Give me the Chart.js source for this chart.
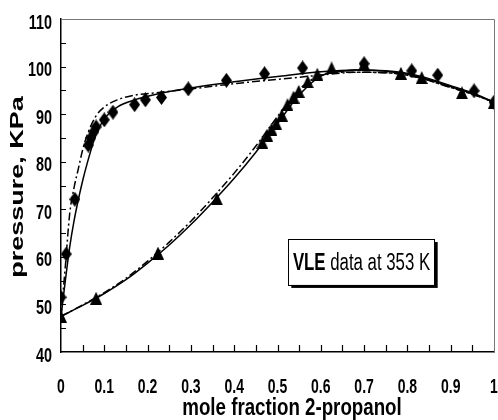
<!DOCTYPE html>
<html>
<head>
<meta charset="utf-8">
<script src="https://cdn.jsdelivr.net/npm/chart.js@4.4.1/dist/chart.umd.min.js"></script>
<style>
html, body { margin: 0; padding: 0; background: #fff; }
</style>
</head>
<body>
<canvas id="vleChart" width="498" height="420"></canvas>
<script>
// measured VLE points (diamonds = vapour / dew, triangles = liquid / bubble)
var dewX = [0, 0.012, 0.032, 0.063, 0.069, 0.076, 0.081, 0.1, 0.12, 0.17, 0.195, 0.232, 0.294, 0.382, 0.47, 0.558, 0.70, 0.81, 0.87, 0.954, 1.0];
var dewP = [51.5, 60.6, 72.1, 83.5, 85, 86.3, 87.3, 88.8, 90.4, 92, 93, 93.5, 95.3, 97.1, 98.5, 99.7, 100.6, 99.1, 98.2, 94.9, 92.5];
var bubX = [0, 0.081, 0.224, 0.36, 0.465, 0.476, 0.486, 0.497, 0.51, 0.523, 0.537, 0.549, 0.57, 0.592, 0.625, 0.70, 0.785, 0.833, 0.926, 1.0];
var bubP = [47.5, 51.3, 60.8, 72.2, 84, 85.6, 86.8, 88, 89.8, 92, 93.6, 94.8, 96.8, 98.4, 99.7, 100.5, 98.6, 97.7, 94.5, 92.5];

// model curves (solid = model 1, dash-dot = model 2)
var dewCurveX = [0, 0.01, 0.02, 0.03, 0.04, 0.05, 0.06, 0.08, 0.1, 0.13, 0.17, 0.22, 0.3, 0.4, 0.5, 0.6, 0.68, 0.75, 0.82, 0.9, 0.95, 1.0];
var dewModel1 = [47.5, 55, 62, 67.5, 72, 76, 79.5, 85.5, 89, 91.5, 93, 94.2, 95.5, 96.8, 97.9, 98.9, 99.3, 99.1, 98.2, 96, 94.5, 92.5];
var dewModel2 = [47.5, 58, 69, 74.5, 78.5, 82.5, 85.5, 89.5, 91.5, 93, 94, 94.5, 95.3, 96.4, 97.3, 98.2, 98.8, 98.7, 97.8, 95.6, 94.2, 92.5];
var bubCurveX = [0, 0.05, 0.1, 0.15, 0.2, 0.25, 0.3, 0.35, 0.4, 0.45, 0.5, 0.55, 0.6, 0.65, 0.68, 0.75, 0.82, 0.9, 0.95, 1.0];
var bubModel1 = [47.5, 49.8, 52.3, 55.2, 58.7, 62.5, 66.8, 71.5, 76.5, 82, 88, 94, 98, 99.0, 99.3, 99.0, 98.0, 95.8, 94.3, 92.5];
var bubModel2 = [47.5, 49.9, 52.5, 55.5, 59.1, 63.1, 67.5, 72.4, 77.6, 83.3, 89.5, 95.2, 98.2, 98.8, 98.8, 98.7, 97.8, 95.6, 94.2, 92.5];

var xTickLabels = ['0', '0.1', '0.2', '0.3', '0.4', '0.5', '0.6', '0.7', '0.8', '0.9', '1'];

var sans = "'Liberation Sans', Arial, sans-serif";

function toPoints(xs, ys) {
    var pts = [];
    for (var i = 0; i < xs.length; i++) pts.push({ x: xs[i], y: ys[i] });
    return pts;
}

// marker shapes
function makeMarker(w, h, kind) {
    var c = document.createElement('canvas');
    c.width = w; c.height = h;
    var g = c.getContext('2d');
    g.fillStyle = '#000';
    g.beginPath();
    if (kind === 'diamond') {
        g.moveTo(w / 2, 0); g.lineTo(w, h / 2); g.lineTo(w / 2, h); g.lineTo(0, h / 2);
    } else {
        g.moveTo(w / 2, 0); g.lineTo(w, h); g.lineTo(0, h);
    }
    g.closePath();
    g.fill();
    return c;
}
var diamond = makeMarker(11, 15, 'diamond');
var triangle = makeMarker(12, 13, 'triangle');

// the original picture is squeezed sideways, so text is drawn narrowed
function squeezedText(ctx, text, x, y, sx, align) {
    var w = ctx.measureText(text).width * sx;
    var left = align === 'right' ? x - w : (align === 'center' ? x - w / 2 : x);
    ctx.save();
    ctx.translate(left, y);
    ctx.scale(sx, 1);
    ctx.textAlign = 'left';
    ctx.fillText(text, 0, 0);
    ctx.restore();
    return w;
}

var decorPlugin = {
    id: 'decor',
    afterDraw: function(chart) {
        var ctx = chart.ctx;
        var a = chart.chartArea;
        var xs = chart.scales.x, ys = chart.scales.y;
        ctx.save();
        // top and right frame
        ctx.strokeStyle = '#777';
        ctx.lineWidth = 1;
        ctx.beginPath();
        ctx.moveTo(a.left, a.top + 0.5); ctx.lineTo(a.right + 0.5, a.top + 0.5); ctx.lineTo(a.right + 0.5, a.bottom);
        ctx.stroke();
        // inward ticks
        ctx.strokeStyle = '#000';
        ctx.lineWidth = 1.2;
        ctx.beginPath();
        for (var i = 1; i < 20; i++) {
            var px = Math.round(xs.getPixelForValue(i * 0.05)) + 0.5;
            ctx.moveTo(px, a.bottom); ctx.lineTo(px, a.bottom - 7);
        }
        for (var j = 1; j < 14; j++) {
            var py = Math.round(ys.getPixelForValue(40 + j * 5)) + 0.5;
            ctx.moveTo(a.left, py); ctx.lineTo(a.left + 5, py);
        }
        ctx.stroke();

        // tick labels
        ctx.fillStyle = '#000';
        ctx.textBaseline = 'alphabetic';
        ctx.font = 'bold 20px ' + sans;
        xs.ticks.forEach(function(t) {
            squeezedText(ctx, xTickLabels[Math.round(t.value * 10)], xs.getPixelForValue(t.value), 393, 0.7, 'center');
        });
        ys.ticks.forEach(function(t) {
            squeezedText(ctx, String(t.value), 52, ys.getPixelForValue(t.value) + 9.5, 0.72, 'right');
        });

        // x axis title
        ctx.font = 'bold 24px ' + sans;
        squeezedText(ctx, 'mole fraction 2-propanol', 292, 415, 0.78, 'center');

        // y axis title
        ctx.translate(18, 187);
        ctx.rotate(-Math.PI / 2);
        ctx.scale(1, 0.65);
        ctx.font = 'bold 27px ' + sans;
        ctx.textAlign = 'center';
        ctx.textBaseline = 'middle';
        ctx.fillText('pressure, KPa', 0, 0);
        ctx.restore();

        // label box
        ctx.save();
        var bx = xs.getPixelForValue(0.525), bx2 = xs.getPixelForValue(0.863);
        var by = ys.getPixelForValue(63.75), by2 = ys.getPixelForValue(54.1);
        ctx.fillStyle = '#000';
        ctx.fillRect(bx + 3, by + 3, bx2 - bx, by2 - by);
        ctx.fillStyle = '#fff';
        ctx.fillRect(bx, by, bx2 - bx, by2 - by);
        ctx.strokeStyle = '#000';
        ctx.lineWidth = 1;
        ctx.strokeRect(Math.round(bx) + 0.5, Math.round(by) + 0.5, Math.round(bx2 - bx), Math.round(by2 - by));
        ctx.fillStyle = '#000';
        ctx.textBaseline = 'alphabetic';
        var sx = 0.73;
        ctx.font = 'bold 23px ' + sans;
        var w1 = ctx.measureText('VLE').width * sx;
        ctx.font = '23px ' + sans;
        var w2 = ctx.measureText(' data at 353 K').width * sx;
        var tx = (bx + bx2) / 2 - (w1 + w2) / 2, ty = (by + by2) / 2 + 8;
        ctx.font = 'bold 23px ' + sans;
        squeezedText(ctx, 'VLE', tx, ty, sx, 'left');
        ctx.font = '23px ' + sans;
        squeezedText(ctx, ' data at 353 K', tx + w1, ty, sx, 'left');
        ctx.restore();
    }
};

var ctx = document.getElementById('vleChart').getContext('2d');
var vleChart = new Chart(ctx, {
    type: 'scatter',
    data: {
        datasets: [
            { label: 'dew model 1', data: toPoints(dewCurveX, dewModel1), showLine: true, borderColor: '#000', borderWidth: 1.5, pointRadius: 0, cubicInterpolationMode: 'monotone' },
            { label: 'dew model 2', data: toPoints(dewCurveX, dewModel2), showLine: true, borderColor: '#000', borderWidth: 1.5, borderDash: [8, 3, 2, 3], pointRadius: 0, cubicInterpolationMode: 'monotone' },
            { label: 'bubble model 1', data: toPoints(bubCurveX, bubModel1), showLine: true, borderColor: '#000', borderWidth: 1.5, pointRadius: 0, cubicInterpolationMode: 'monotone' },
            { label: 'bubble model 2', data: toPoints(bubCurveX, bubModel2), showLine: true, borderColor: '#000', borderWidth: 1.5, borderDash: [8, 3, 2, 3], pointRadius: 0, cubicInterpolationMode: 'monotone' },
            { label: 'vapour', data: toPoints(dewX, dewP), pointStyle: diamond, pointRadius: 7 },
            { label: 'liquid', data: toPoints(bubX, bubP), pointStyle: triangle, pointRadius: 7 }
        ]
    },
    options: {
        responsive: false,
        animation: false,
        devicePixelRatio: 1,
        layout: { autoPadding: false, padding: { left: 0, top: 19, right: 4, bottom: 0 } },
        plugins: { legend: { display: false }, tooltip: { enabled: false } },
        scales: {
            x: {
                type: 'linear', min: 0, max: 1,
                afterFit: function(scale) { scale.height = 68; },
                grid: { drawOnChartArea: false, drawTicks: false },
                border: { color: '#000', width: 1.5 },
                ticks: { stepSize: 0.1, display: false }
            },
            y: {
                type: 'linear', min: 40, max: 110,
                afterFit: function(scale) { scale.width = 61; },
                grid: { drawOnChartArea: false, drawTicks: false },
                border: { color: '#000', width: 1.5 },
                ticks: { stepSize: 10, display: false }
            }
        }
    },
    plugins: [decorPlugin]
});
</script>
</body>
</html>
